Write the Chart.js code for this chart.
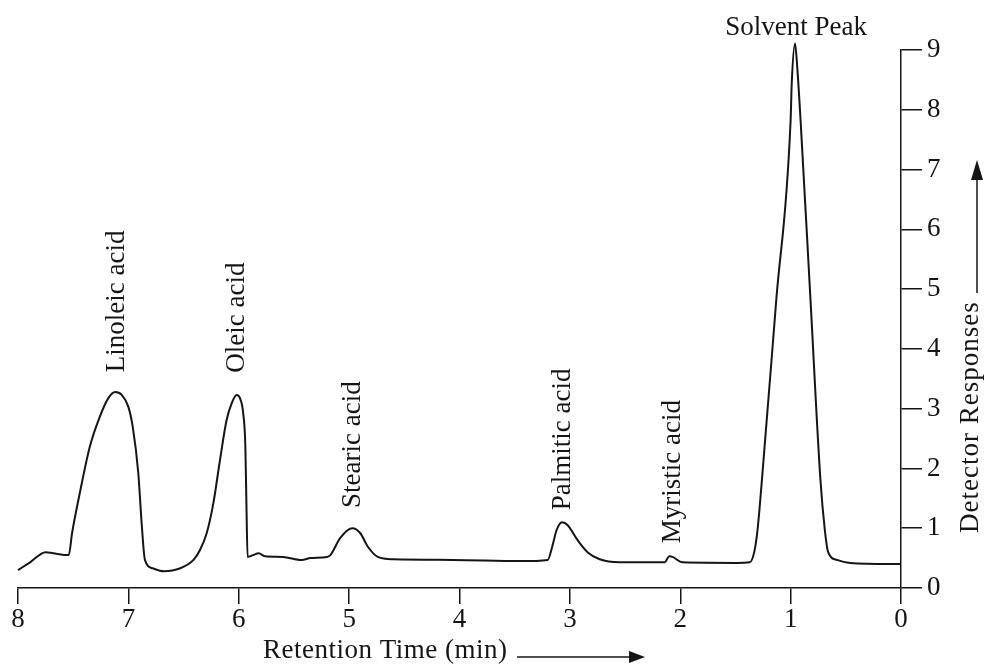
<!DOCTYPE html>
<html>
<head>
<meta charset="utf-8">
<title>Chromatogram</title>
<script src="https://cdn.jsdelivr.net/npm/chart.js@4.4.0/dist/chart.umd.min.js"></script>
<style>
  html, body { margin: 0; padding: 0; background: #fff; }
  #wrap { width: 985px; height: 665px; }
</style>
</head>
<body>
<div id="wrap"><canvas id="chart" width="985" height="665"></canvas></div>
<script>
// retention time (min) and detector response
const retentionTimes = [
  8.00, 7.89, 7.75, 7.68, 7.54, 7.51, 7.44, 7.35, 7.26, 7.18, 7.12, 7.06, 7.00, 6.96, 6.91,
  6.88, 6.85, 6.78, 6.68, 6.53, 6.41, 6.35, 6.29, 6.23, 6.17, 6.11, 6.06, 6.02, 5.99, 5.96,
  5.94, 5.93, 5.92, 5.87, 5.82, 5.76, 5.60, 5.43, 5.35, 5.20, 5.17, 5.08, 4.97, 4.90, 4.83,
  4.74, 4.60, 4.06, 3.45, 3.20, 3.16, 3.12, 3.07, 3.02, 2.93, 2.84, 2.73, 2.55, 2.14, 2.10,
  2.07, 1.98, 1.49, 1.37, 1.33, 1.30, 1.26, 1.13, 1.00, 0.99, 0.96, 0.94, 0.91, 0.82, 0.73,
  0.69, 0.66, 0.58, 0.46, 0.00
];
const detectorResponse = [
  0.30, 0.43, 0.60, 0.58, 0.55, 0.92, 1.59, 2.36, 2.86, 3.18, 3.28, 3.23, 3.03, 2.69, 1.92,
  1.09, 0.47, 0.33, 0.28, 0.33, 0.47, 0.64, 0.92, 1.42, 2.14, 2.81, 3.11, 3.23, 3.18, 2.93,
  2.36, 1.35, 0.52, 0.55, 0.58, 0.53, 0.52, 0.47, 0.50, 0.52, 0.55, 0.84, 1.00, 0.92, 0.69,
  0.52, 0.48, 0.47, 0.45, 0.47, 0.69, 0.97, 1.10, 1.05, 0.80, 0.60, 0.48, 0.43, 0.43, 0.53,
  0.52, 0.43, 0.42, 0.43, 0.60, 0.97, 1.81, 4.82, 7.83, 8.44, 9.11, 8.71, 7.83, 4.82, 1.81,
  0.97, 0.60, 0.47, 0.42, 0.40
];

const xTickValues = [0, 1, 2, 3, 4, 5, 6, 7, 8];
const yTickValues = [0, 1, 2, 3, 4, 5, 6, 7, 8, 9];

// peak names, written upward, anchored at (time, level)
const peakNames = ["Linoleic acid", "Oleic acid", "Stearic acid", "Palmitic acid", "Myristic acid"];
const peakLabelTimes = [7.10, 6.02, 4.97, 3.06, 2.07];
const peakLabelLevels = [3.61, 3.60, 1.34, 1.30, 0.75];

const solventName = "Solvent Peak";
const solventLabelTime = 0.95;
const solventLabelLevel = 9.25;

const xTitle = "Retention Time (min)";
const yTitle = "Detector Responses";

const SERIF = "'Liberation Serif', 'DejaVu Serif', serif";
const INK = "#151515";

function arrowHead(ctx, tipX, tipY, dir) {
  // dir: "right" or "up"
  ctx.beginPath();
  if (dir === "right") {
    ctx.moveTo(tipX, tipY);
    ctx.lineTo(tipX - 16, tipY - 6);
    ctx.lineTo(tipX - 16, tipY + 6);
  } else {
    ctx.moveTo(tipX, tipY);
    ctx.lineTo(tipX - 6, tipY + 20);
    ctx.lineTo(tipX + 6, tipY + 20);
  }
  ctx.closePath();
  ctx.fill();
}

const textPlugin = {
  id: "chromText",
  afterDraw(chart) {
    const { ctx, scales: { x, y } } = chart;
    ctx.save();
    ctx.fillStyle = INK;
    ctx.strokeStyle = INK;
    ctx.font = "27px " + SERIF;

    // peak labels
    peakNames.forEach((name, i) => {
      const px = x.getPixelForValue(peakLabelTimes[i]);
      const py = y.getPixelForValue(peakLabelLevels[i]);
      ctx.save();
      ctx.translate(px, py);
      ctx.rotate(-Math.PI / 2);
      ctx.textAlign = "left";
      ctx.textBaseline = "middle";
      ctx.fillText(name, 0, 0);
      ctx.restore();
    });

    // solvent peak label
    ctx.textAlign = "center";
    ctx.textBaseline = "alphabetic";
    ctx.fillText(solventName, x.getPixelForValue(solventLabelTime), y.getPixelForValue(solventLabelLevel));

    // x title with arrow
    ctx.textAlign = "left";
    ctx.letterSpacing = "0.5px";
    ctx.fillText(xTitle, 263, 658);
    ctx.lineWidth = 1.5;
    ctx.beginPath();
    ctx.moveTo(517, 657);
    ctx.lineTo(632, 657);
    ctx.stroke();
    arrowHead(ctx, 645, 657, "right");

    // y title with arrow
    ctx.save();
    ctx.letterSpacing = "1px";
    ctx.translate(978, 533);
    ctx.rotate(-Math.PI / 2);
    ctx.textAlign = "left";
    ctx.fillText(yTitle, 0, 0);
    ctx.restore();
    ctx.beginPath();
    ctx.moveTo(977, 293);
    ctx.lineTo(977, 175);
    ctx.stroke();
    arrowHead(ctx, 977, 160, "up");

    ctx.restore();
  }
};

const points = retentionTimes.map((t, i) => ({ x: t, y: detectorResponse[i] }));

new Chart(document.getElementById("chart"), {
  type: "line",
  data: {
    datasets: [{
      data: points,
      borderColor: INK,
      borderWidth: 2,
      pointRadius: 0,
      fill: false,
      cubicInterpolationMode: "monotone",
      clip: false
    }]
  },
  options: {
    responsive: false,
    animation: false,
    devicePixelRatio: 1,
    layout: { padding: { left: 18, top: 50, right: 0, bottom: 0 } },
    plugins: {
      legend: { display: false },
      tooltip: { enabled: false }
    },
    scales: {
      x: {
        type: "linear",
        position: "bottom",
        reverse: true,
        min: 0,
        max: 8,
        afterBuildTicks: s => { s.ticks = xTickValues.map(v => ({ value: v })); },
        afterFit: s => { s.height = 77; },
        ticks: {
          color: INK,
          font: { family: SERIF, size: 27 },
          padding: 0,
          maxRotation: 0,
          autoSkip: false
        },
        grid: {
          drawOnChartArea: false,
          tickLength: 16,
          color: INK,
          lineWidth: 1.5
        },
        border: { display: true, color: INK, width: 1.5 }
      },
      y: {
        type: "linear",
        position: "right",
        min: 0,
        max: 9,
        afterBuildTicks: s => { s.ticks = yTickValues.map(v => ({ value: v })); },
        afterFit: s => { s.width = 84; },
        ticks: {
          color: INK,
          font: { family: SERIF, size: 27 },
          padding: 5,
          autoSkip: false
        },
        grid: {
          drawOnChartArea: false,
          tickLength: 21,
          color: INK,
          lineWidth: 1.5
        },
        border: { display: true, color: INK, width: 1.5 }
      }
    }
  },
  plugins: [textPlugin]
});
</script>
</body>
</html>
